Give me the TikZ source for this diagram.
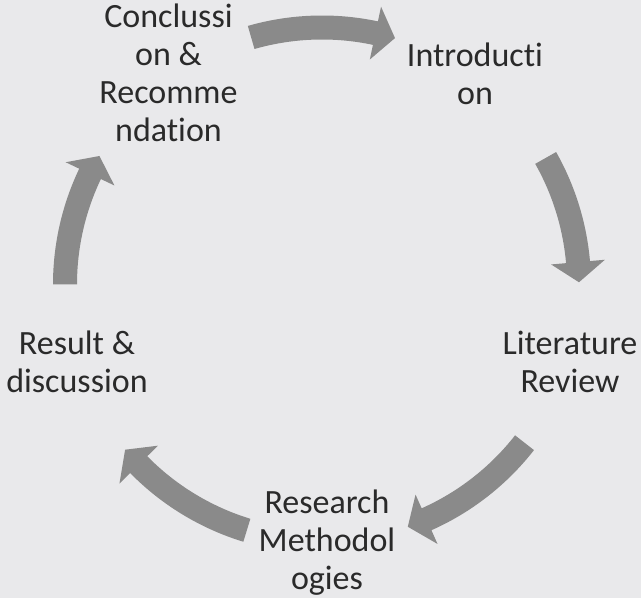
\documentclass[tikz,border=0pt]{standalone}
\usepackage{fontspec}
\setmainfont{Carlito}[Ligatures=NoCommon]
\definecolor{bgc}{HTML}{E9E9EB}
\definecolor{arrowc}{HTML}{8A8A8A}
\definecolor{txtc}{HTML}{2A2A2A}
\newcommand{\cyclearrow}[2]{%
  \pgfmathsetmacro{\ah}{#2+4.5}%
  \fill[arrowc] (#1:269) arc[start angle=#1, end angle=\ah, radius=269]
    -- (\ah:284) -- (#2:257) -- (\ah:230) -- (\ah:245)
    arc[start angle=\ah, end angle=#1, radius=245] -- cycle;}
\tikzset{
  lbl/.style={font=\fontsize{34}{38}\selectfont, text=txtc, align=center, inner sep=0pt}
}
\begin{document}
\begin{tikzpicture}[x=1pt,y=1pt]
\fill[bgc] (0,0) rectangle (641,598);
\useasboundingbox (0,0) rectangle (641,598);
\begin{scope}[shift={(322,313.5)}]
  \cyclearrow{106}{73.5}
  \cyclearrow{29.5}{0.5}
  \cyclearrow{-38}{-70.5}
  \cyclearrow{-107}{-140}
  \cyclearrow{180}{150}
\end{scope}
\node[lbl] (intro) at (475,519.9) {\strut Introducti\\\strut on};
\node[lbl] (lit) at (570,231.6) {\strut Literature\\\strut Review};
\node[lbl] (meth) at (327,54) {\strut Research\\\strut Methodol\\\strut ogies};
\node[lbl] (res) at (77,231.6) {\strut Result \&\\\strut discussion};
\node[lbl] (conc) at (168.5,520.6) {\strut Conclussi\\\strut on \&\\\strut Recomme\\\strut ndation};
\end{tikzpicture}
\end{document}
